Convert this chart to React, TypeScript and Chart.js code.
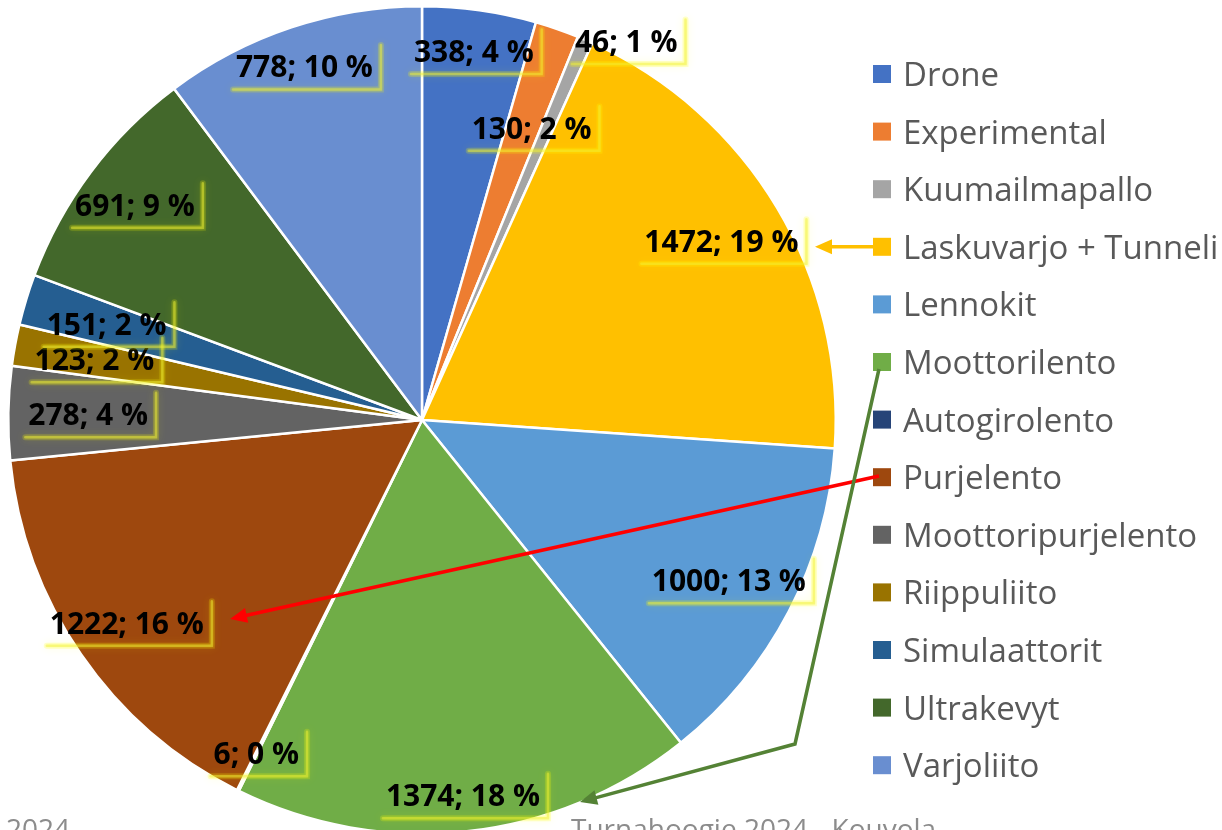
import React, { useEffect, useRef } from "react";
import { Chart, registerables } from "chart.js";

Chart.register(...registerables);

// ---- data ----
const categories = [
  "Drone",
  "Experimental",
  "Kuumailmapallo",
  "Laskuvarjo + Tunneli",
  "Lennokit",
  "Moottorilento",
  "Autogirolento",
  "Purjelento",
  "Moottoripurjelento",
  "Riippuliito",
  "Simulaattorit",
  "Ultrakevyt",
  "Varjoliito",
];
const values = [338, 130, 46, 1472, 1000, 1374, 6, 1222, 278, 123, 151, 691, 778];
const sliceColors = [
  "#4472C4",
  "#ED7D31",
  "#A5A5A5",
  "#FFC000",
  "#5B9BD5",
  "#70AD47",
  "#264478",
  "#9E480E",
  "#636363",
  "#997300",
  "#255E91",
  "#43682B",
  "#698ED0",
];
const footerLeft = "2024";
const footerCenter = "Turnahoogie 2024 - Kouvola";

// ---- label placement (fraction of radius, angular shift in degrees) ----
const labelRadius = [0.9, 0.754, 1.04, 0.843, 0.837, 0.913, 0.9, 0.866, 0.807, 0.805, 0.797, 0.867, 0.9];
const labelAngleShift = [0, 1.5, 5.1, 0, 0, 0, 0, 0, 0, 0, 0, 0, 0];

const LABEL_FONT = 'bold 30px "Open Sans"';
const LEGEND_FONT = '33px "Open Sans"';

function drawArrow(ctx: CanvasRenderingContext2D, pts: number[][], color: string) {
  const n = pts.length;
  const [tx, ty] = pts[n - 1];
  const [px, py] = pts[n - 2];
  const ang = Math.atan2(ty - py, tx - px);
  const headLen = 17;
  const headHalf = 7.5;
  const bx = tx - Math.cos(ang) * headLen;
  const by = ty - Math.sin(ang) * headLen;
  ctx.save();
  ctx.strokeStyle = color;
  ctx.fillStyle = color;
  ctx.lineWidth = 3.5;
  ctx.lineJoin = "miter";
  ctx.beginPath();
  ctx.moveTo(pts[0][0], pts[0][1]);
  for (let i = 1; i < n - 1; i++) ctx.lineTo(pts[i][0], pts[i][1]);
  ctx.lineTo(bx + Math.cos(ang) * 2, by + Math.sin(ang) * 2);
  ctx.stroke();
  ctx.beginPath();
  ctx.moveTo(tx, ty);
  ctx.lineTo(bx + Math.cos(ang + Math.PI / 2) * headHalf, by + Math.sin(ang + Math.PI / 2) * headHalf);
  ctx.lineTo(bx + Math.cos(ang - Math.PI / 2) * headHalf, by + Math.sin(ang - Math.PI / 2) * headHalf);
  ctx.closePath();
  ctx.fill();
  ctx.restore();
}

const overlayPlugin = {
  id: "overlay",
  afterDatasetsDraw(chart: any) {
    const ctx: CanvasRenderingContext2D = chart.ctx;
    const meta = chart.getDatasetMeta(0);
    const data: number[] = chart.data.datasets[0].data;
    const total = data.reduce((a, b) => a + b, 0);
    const capH = 21.5;

    // data labels
    meta.data.forEach((arc: any, i: number) => {
      const mid = (arc.startAngle + arc.endAngle) / 2 + (labelAngleShift[i] * Math.PI) / 180;
      const r = arc.outerRadius * labelRadius[i];
      const cx = arc.x + Math.cos(mid) * r;
      const cy = arc.y + Math.sin(mid) * r;
      const text = `${data[i]}; ${Math.round((data[i] / total) * 100)} %`;
      ctx.save();
      ctx.font = LABEL_FONT;
      const w = ctx.measureText(text).width;
      const left = cx - w / 2;
      const right = cx + w / 2;
      const top = cy - capH / 2;
      const base = cy + capH / 2;
      const bl = left - 3;
      const br = right + 8;
      const bt = top - 11;
      const bb = base + 12;
      // soft glow edges
      ctx.lineCap = "round";
      ctx.strokeStyle = "rgba(255,255,0,0.18)";
      ctx.shadowColor = "rgba(255,255,0,0.6)";
      ctx.shadowBlur = 8;
      ctx.lineWidth = 6;
      ctx.beginPath();
      ctx.moveTo(bl, bb);
      ctx.lineTo(br, bb);
      ctx.lineTo(br, bt);
      ctx.stroke();
      ctx.shadowBlur = 3;
      ctx.strokeStyle = "rgba(240,240,60,0.45)";
      ctx.lineWidth = 2.5;
      ctx.beginPath();
      ctx.moveTo(bl, bb);
      ctx.lineTo(br, bb);
      ctx.lineTo(br, bt);
      ctx.stroke();
      ctx.restore();

      ctx.save();
      ctx.font = LABEL_FONT;
      ctx.fillStyle = "#000000";
      ctx.textAlign = "left";
      ctx.textBaseline = "alphabetic";
      ctx.fillText(text, left, base);
      ctx.restore();
    });

    // legend
    ctx.save();
    ctx.font = LEGEND_FONT;
    ctx.textBaseline = "alphabetic";
    ctx.textAlign = "left";
    const colors: string[] = chart.data.datasets[0].backgroundColor;
    chart.data.labels.forEach((lab: string, i: number) => {
      const y = 74 + 57.6 * i;
      ctx.fillStyle = colors[i];
      ctx.fillRect(873, y - 9, 18, 18);
      ctx.fillStyle = "#595959";
      ctx.fillText(lab, 903, y + 12);
    });
    ctx.restore();

    // arrows
    drawArrow(ctx, [[882, 246.8], [815, 246.8]], "#FFC000");
    drawArrow(ctx, [[879, 476], [230, 619]], "#FF0000");
    drawArrow(ctx, [[879, 369], [795, 744], [580, 802]], "#548235");

    // footer
    ctx.save();
    ctx.font = '28px "Open Sans"';
    ctx.fillStyle = "#8c8c8c";
    ctx.textBaseline = "alphabetic";
    ctx.fillText(footerLeft, 6, 839);
    ctx.fillText(footerCenter, 571, 839);
    ctx.restore();
  },
};

export default function App() {
  const ref = useRef<HTMLCanvasElement | null>(null);
  useEffect(() => {
    if (!ref.current) return;
    const chart = new Chart(ref.current, {
      type: "pie",
      data: {
        labels: categories,
        datasets: [
          {
            data: values,
            backgroundColor: sliceColors,
            borderColor: "#ffffff",
            borderWidth: 2.5,
            hoverOffset: 0,
            offset: 0,
          },
        ],
      },
      options: {
        responsive: false,
        animation: false,
        layout: { padding: { left: 7, top: 5, right: 385, bottom: 5 } },
        plugins: {
          legend: { display: false },
          tooltip: { enabled: false },
          title: { display: false },
        },
      },
      plugins: [overlayPlugin],
    });
    return () => chart.destroy();
  }, []);
  return (
    <div
      style={{
        position: "fixed",
        left: 0,
        top: 0,
        width: 1222,
        height: 830,
        overflow: "hidden",
        background: "#ffffff",
      }}
    >
      <canvas ref={ref} width={1222} height={840} style={{ display: "block", width: 1222, height: 840 }} />
    </div>
  );
}
